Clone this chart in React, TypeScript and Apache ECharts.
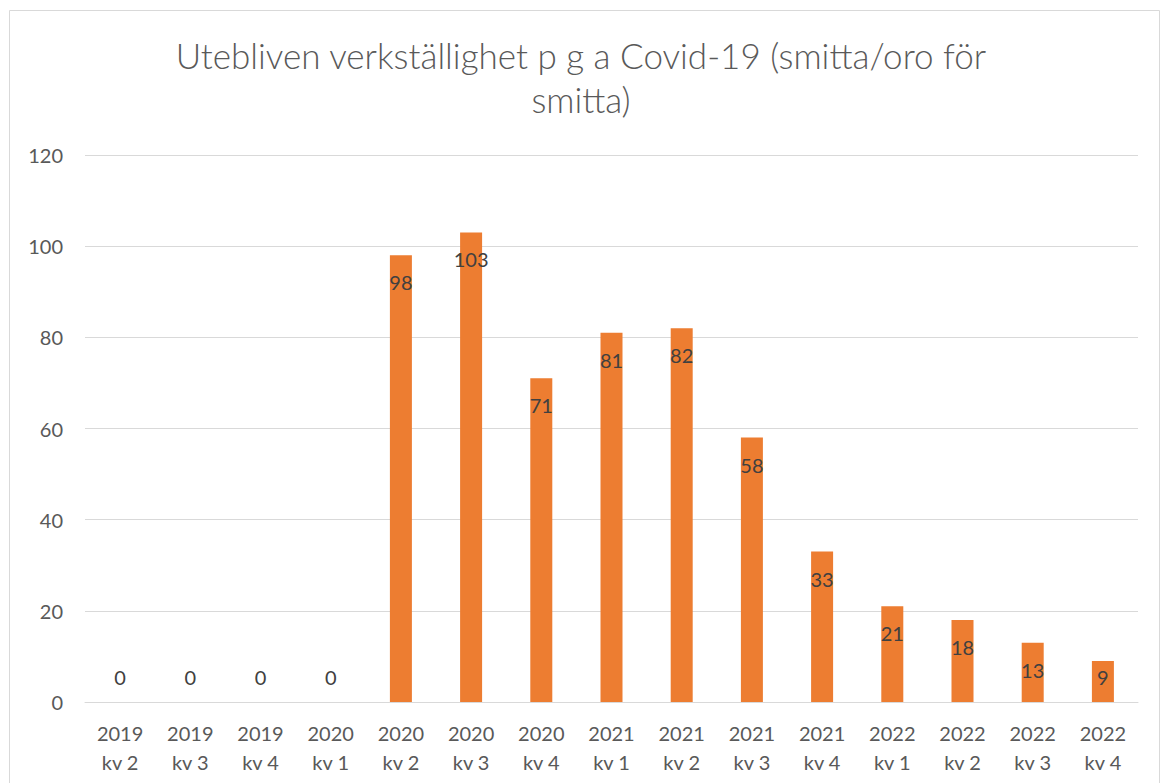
import React, { useEffect, useRef } from "react";
import * as echarts from "echarts";

const categories = [
  "2019\nkv 2", "2019\nkv 3", "2019\nkv 4", "2020\nkv 1", "2020\nkv 2",
  "2020\nkv 3", "2020\nkv 4", "2021\nkv 1", "2021\nkv 2", "2021\nkv 3",
  "2021\nkv 4", "2022\nkv 1", "2022\nkv 2", "2022\nkv 3", "2022\nkv 4",
];
const values = [0, 0, 0, 0, 98, 103, 71, 81, 82, 58, 33, 21, 18, 13, 9];
const titleText = "Utebliven verkställighet p g a Covid-19 (smitta/oro för\nsmitta)";

const FONT = "Lato, 'Open Sans', sans-serif";

export default function App() {
  const ref = useRef<HTMLDivElement>(null);
  useEffect(() => {
    if (!ref.current) return;
    const chart = echarts.init(ref.current, undefined, { renderer: "svg" });
    chart.setOption({
      animation: false,
      backgroundColor: "#ffffff",
      textStyle: { fontFamily: FONT },
      title: {
        text: titleText,
        left: "center",
        top: 28,
        textStyle: {
          fontFamily: FONT,
          fontSize: 35,
          fontWeight: 300,
          color: "#595959",
          lineHeight: 44,
        },
      },
      graphic: [
        {
          type: "rect",
          shape: { x: 9.5, y: 10.5, width: 1150, height: 790 },
          style: { fill: "none", stroke: "#D9D9D9", lineWidth: 1 },
          silent: true,
        },
      ],
      grid: { left: 85, right: 24, top: 155, bottom: 81, containLabel: false },
      xAxis: {
        type: "category",
        data: categories,
        axisLine: { show: true, lineStyle: { color: "#D9D9D9", width: 1 } },
        axisTick: { show: false },
        axisLabel: {
          color: "#595959",
          fontSize: 20,
          fontFamily: FONT,
          lineHeight: 29,
          margin: 16,
          interval: 0,
        },
      },
      yAxis: {
        type: "value",
        min: 0,
        max: 120,
        interval: 20,
        axisLine: { show: false },
        axisTick: { show: false },
        splitLine: { lineStyle: { color: "#D9D9D9", width: 1 } },
        axisLabel: {
          color: "#595959",
          fontSize: 20,
          fontFamily: FONT,
          margin: 22,
        },
      },
      series: [
        {
          type: "bar",
          barWidth: 22,
          data: values.map((v) =>
            v < 11.4
              ? { value: v, label: { position: "insideBottom", distance: 15 } }
              : v
          ),
          itemStyle: { color: "#ED7D31" },
          label: {
            show: true,
            position: "insideTop",
            distance: 17,
            color: "#404040",
            fontSize: 20,
            fontFamily: FONT,
          },
        },
      ],
    });
    return () => chart.dispose();
  }, []);
  return (
    <div
      ref={ref}
      style={{ position: "fixed", left: 0, top: 0, width: 1162, height: 783 }}
    />
  );
}
